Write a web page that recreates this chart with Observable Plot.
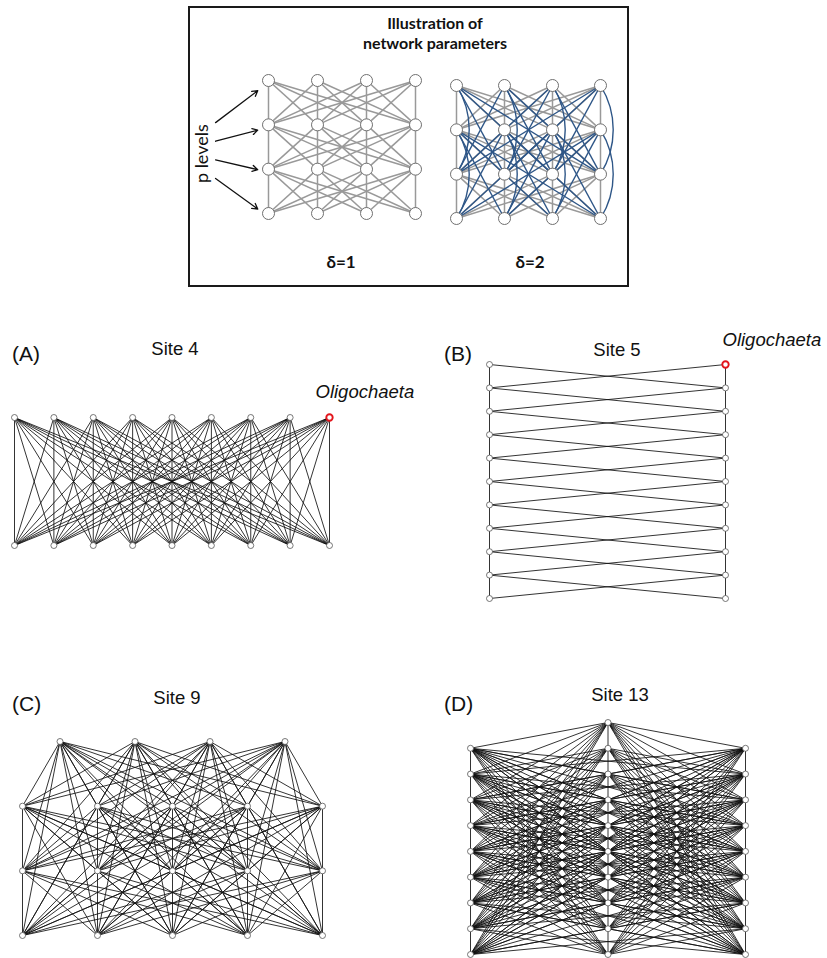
<!DOCTYPE html>
<html>
<head>
<meta charset="utf-8">
<script src="https://cdn.jsdelivr.net/npm/d3@7"></script>
<script src="https://cdn.jsdelivr.net/npm/@observablehq/plot@0.6"></script>
<style>
  html, body { margin: 0; padding: 0; background: #fff; }
  #fig { position: relative; width: 827px; height: 958px; overflow: hidden; background: #fff; }
  .lbl { position: absolute; font-family: "Liberation Sans", Arial, sans-serif; font-size: 19px; color: #111; white-space: nowrap; line-height: 1; }
  .ctr { transform: translate(-50%, -50%); }
  .lft { transform: translate(0, -50%); }
  .ill { font-family: Lato, "Open Sans", sans-serif; font-weight: bold; color: #111; }
  #box { position: absolute; left: 188px; top: 6px; width: 437px; height: 277px; border: 2px solid #1a1a1a; box-sizing: content-box; }
</style>
</head>
<body>
<div id="fig"><div id="box"></div></div>
<script>
// ---------- data ----------
const panelLetters = ["(A)", "(B)", "(C)", "(D)"];
const siteNames = ["Site 4", "Site 5", "Site 9", "Site 13"];
// nodes per trophic level (top to bottom) in each site network
const levelSizesA = [9, 9];
const levelSizesB = [2, 2, 2, 2, 2, 2, 2, 2, 2, 2, 2];
const levelSizesC = [4, 5, 5, 5];
const levelSizesD = [1, 3, 3, 3, 3, 3, 3, 3, 3, 3];
// maximum level distance spanned by a link (delta) in each site network
const deltas = [1, 1, 3, 9];
// highlighted taxon: [level, index in level]
const highlightName = "Oligochaeta";
const highlightA = [0, 8];
const highlightB = [0, 1];
// illustration networks
const illusLevelSizes = [4, 4, 4, 4];
const illusDeltas = [1, 2];
const illusTitle = ["Illustration of", "network parameters"];
const illusLabels = ["δ=1", "δ=2"];
const levelsLabel = "p levels";

// ---------- helpers ----------
function makeNodes(sizes) {
  const out = [];
  sizes.forEach((n, l) => {
    for (let i = 0; i < n; i++) out.push({ level: l, idx: i, x: i - (n - 1) / 2, y: l });
  });
  return out;
}
function makeEdges(nodes, delta, withArcs) {
  const out = [];
  for (let i = 0; i < nodes.length; i++) {
    for (let j = i + 1; j < nodes.length; j++) {
      const a = nodes[i], b = nodes[j];
      const dl = Math.abs(a.level - b.level);
      if (dl === 0 || dl > delta) continue;
      const same = a.x === b.x;
      if (same && dl > 1 && !withArcs) continue;
      out.push({ x1: a.x, y1: a.y, x2: b.x, y2: b.y, span: dl, arc: same && dl > 1 });
    }
  }
  return out;
}
const fig = document.getElementById("fig");
function place(el, left, top) {
  el.style.position = "absolute";
  el.style.left = left + "px";
  el.style.top = top + "px";
  fig.append(el);
}
function label(text, x, y, cls, extra) {
  const d = document.createElement("div");
  d.className = "lbl " + cls;
  d.textContent = text;
  d.style.left = x + "px";
  d.style.top = y + "px";
  if (extra) Object.assign(d.style, extra);
  fig.append(d);
}
function graphPlot({ left, top, width, height, xDom, xPix, yDom, yPix, marks }) {
  const p = Plot.plot({
    width, height, margin: 0,
    style: { overflow: "visible", background: "transparent" },
    x: { domain: xDom, range: xPix.map(v => v - left), axis: null },
    y: { domain: yDom, range: yPix.map(v => v - top), axis: null },
    marks
  });
  place(p, left, top);
  return p;
}
const FONT = "Liberation Sans, Arial, sans-serif";

function sitePanel(sizes, delta, frame, highlight, hlOffset) {
  const nodes = makeNodes(sizes);
  const edges = makeEdges(nodes, delta, false);
  const maxN = d3.max(sizes);
  const hl = highlight ? nodes.filter(n => n.level === highlight[0] && n.idx === highlight[1]) : [];
  const marks = [
    Plot.link(edges, { x1: "x1", y1: "y1", x2: "x2", y2: "y2", stroke: "#111", strokeWidth: 1, strokeOpacity: 0.85 }),
    Plot.dot(nodes, { x: "x", y: "y", r: 3, fill: "white", stroke: "#555", strokeWidth: 0.8 }),
    Plot.dot(hl, { x: "x", y: "y", r: 3.2, fill: "white", stroke: "#e3141b", strokeWidth: 1.9 }),
    Plot.text(hl, { x: "x", y: "y", text: () => highlightName, textAnchor: "start", dx: hlOffset[0], dy: hlOffset[1],
      fontStyle: "italic", fontSize: 18.5, fontFamily: FONT, fill: "#111" })
  ];
  graphPlot({
    ...frame,
    xDom: [-(maxN - 1) / 2, (maxN - 1) / 2],
    yDom: [0, sizes.length - 1],
    marks
  });
}

// ---------- site panels ----------
sitePanel(levelSizesA, deltas[0], { left: 0, top: 380, width: 350, height: 180, xPix: [14, 329], yPix: [417, 545] }, highlightA, [-14, -25]);
sitePanel(levelSizesB, deltas[1], { left: 470, top: 340, width: 280, height: 275, xPix: [489, 725], yPix: [364, 598] }, highlightB, [-3, -24]);
sitePanel(levelSizesC, deltas[2], { left: 0, top: 720, width: 350, height: 235, xPix: [22, 322], yPix: [741, 935] }, null, [0, 0]);
sitePanel(levelSizesD, deltas[3], { left: 455, top: 712, width: 305, height: 246, xPix: [470, 745], yPix: [722, 954] }, null, [0, 0]);

const letterPos = [[12, 353], [444, 353], [12, 703], [444, 703]];
const sitePos = [[175, 349], [617, 350], [177, 698], [620, 695]];
panelLetters.forEach((t, i) => label(t, letterPos[i][0], letterPos[i][1], "lft", { fontSize: "21px" }));
siteNames.forEach((t, i) => label(t, sitePos[i][0], sitePos[i][1], "ctr", { fontSize: "18.5px" }));

// ---------- illustration ----------
const illusFrames = [
  { left: 195, top: 60, width: 240, height: 180, xPix: [268, 415], yPix: [80, 213] },
  { left: 440, top: 60, width: 180, height: 180, xPix: [456, 600], yPix: [85, 218] }
];
illusDeltas.forEach((delta, k) => {
  const nodes = makeNodes(illusLevelSizes);
  const edges = makeEdges(nodes, delta, true);
  const gray = edges.filter(e => e.span === 1);
  const blue = edges.filter(e => e.span > 1 && !e.arc);
  const arcs = edges.filter(e => e.arc);
  const marks = [
    Plot.link(gray, { x1: "x1", y1: "y1", x2: "x2", y2: "y2", stroke: "#999", strokeWidth: 1.5 }),
    Plot.link(blue, { x1: "x1", y1: "y1", x2: "x2", y2: "y2", stroke: "#2e5687", strokeWidth: 1.4 }),
    Plot.arrow(arcs, { x1: "x1", y1: "y1", x2: "x2", y2: "y2", bend: 32, headLength: 0, stroke: "#2e5687", strokeWidth: 1.4 }),
    Plot.dot(nodes, { x: "x", y: "y", r: 6, fill: "white", stroke: "#6f6f6f", strokeWidth: 1 })
  ];
  if (k === 0) {
    const lv = d3.range(illusLevelSizes.length);
    const mid = (illusLevelSizes.length - 1) / 2;
    const arrows = lv.map(l => ({ x1: -2.58, y1: 1.58 + (l - mid) * 0.42, x2: -1.72, y2: 0.23 + l * 0.89 }));
    marks.push(
      Plot.arrow(arrows, { x1: "x1", y1: "y1", x2: "x2", y2: "y2", stroke: "#111", strokeWidth: 1.3, headLength: 7, insetEnd: 0 }),
      Plot.text([levelsLabel], { x: () => -2.86, y: () => 1.65, text: d => d, rotate: -90, fontSize: 18, fontFamily: "Lato, Open Sans, sans-serif", fill: "#111" })
    );
  }
  graphPlot({ ...illusFrames[k], xDom: [-1.5, 1.5], yDom: [0, 3], marks });
});
label(illusTitle[0], 435, 23, "ctr ill", { fontSize: "16px" });
label(illusTitle[1], 435, 43, "ctr ill", { fontSize: "16px" });
label(illusLabels[0], 341, 261, "ctr ill", { fontSize: "17px" });
label(illusLabels[1], 530, 261, "ctr ill", { fontSize: "17px" });
</script>
</body>
</html>
